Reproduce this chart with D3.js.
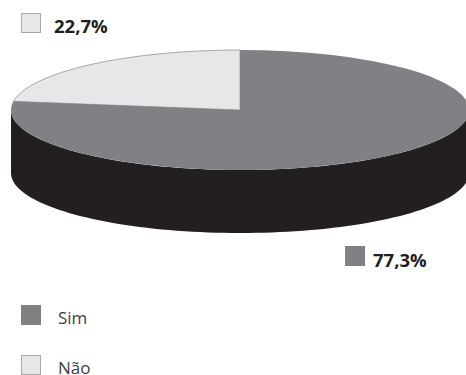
<!DOCTYPE html>
<html>
<head>
<meta charset="utf-8">
<script src="https://cdn.jsdelivr.net/npm/d3@7"></script>
<style>
html,body{margin:0;padding:0;background:#fff;overflow:hidden}
svg{display:block}
text{font-family:"Open Sans",sans-serif}
</style>
</head>
<body>
<svg id="chart" width="466" height="375"></svg>
<script>
const categories = ["Sim", "Não"];
const values = [77.3, 22.7];
const valueLabels = ["77,3%", "22,7%"];
const colors = ["#808184", "#e6e7e8"];
const strokes = ["none", "#a7a9ac"];
const sideColor = "#231f20";

const cx = 240, cy = 110, rx = 229, ry = 60, depth = 63;
const svg = d3.select("#chart");

// Slices run clockwise from 12 o'clock, with "Não" closing the circle on the left.
const pie = d3.pie().sort(null).value(d => d).startAngle(0).endAngle(2 * Math.PI);
const arcs = pie(values);
const arc = d3.arc().innerRadius(0).outerRadius(rx);

// Wall of the disc: the front half of the rim extruded downward.
const rim = d3.range(Math.PI / 2, 3 * Math.PI / 2 + 0.001, Math.PI / 90);
const wall = d3.area()
  .x(a => cx + rx * Math.sin(a))
  .y0(a => cy - ry * Math.cos(a))
  .y1(a => cy - ry * Math.cos(a) + depth);
svg.append("path").attr("d", wall(rim)).attr("fill", sideColor);

// Top face: a flat pie squashed into an ellipse. The light slice goes first
// so the darker one covers its outline along the shared radii.
svg.append("g")
  .attr("transform", `translate(${cx},${cy}) scale(1,${ry / rx})`)
  .selectAll("path")
  .data(arcs.slice().reverse())
  .join("path")
  .attr("d", arc)
  .attr("fill", d => colors[d.index])
  .attr("stroke", d => strokes[d.index])
  .attr("stroke-width", 1)
  .attr("vector-effect", "non-scaling-stroke");

function swatch(x, y, i) {
  const outlined = strokes[i] !== "none";
  svg.append("rect")
    .attr("x", outlined ? x + 0.5 : x)
    .attr("y", outlined ? y + 0.5 : y)
    .attr("width", outlined ? 19 : 20)
    .attr("height", outlined ? 19 : 20)
    .attr("fill", colors[i])
    .attr("stroke", strokes[i]);
}

// Value callouts beside their swatches.
const callouts = [
  {i: 1, sx: 21, sy: 13, tx: 54, ty: 33},
  {i: 0, sx: 345, sy: 246, tx: 373, ty: 267}
];
callouts.forEach(c => {
  swatch(c.sx, c.sy, c.i);
  svg.append("text").attr("x", c.tx).attr("y", c.ty)
    .attr("font-size", 18.5).attr("font-weight", 700).attr("fill", "#231f20")
    .text(valueLabels[c.i]);
});

// Legend.
const legendY = d3.scalePoint().domain(categories).range([305, 355]);
categories.forEach((c, i) => {
  swatch(21, legendY(c), i);
  svg.append("text")
    .attr("x", 58).attr("y", legendY(c) + 19)
    .attr("font-size", 17).attr("fill", "#414042")
    .text(c);
});
</script>
</body>
</html>
